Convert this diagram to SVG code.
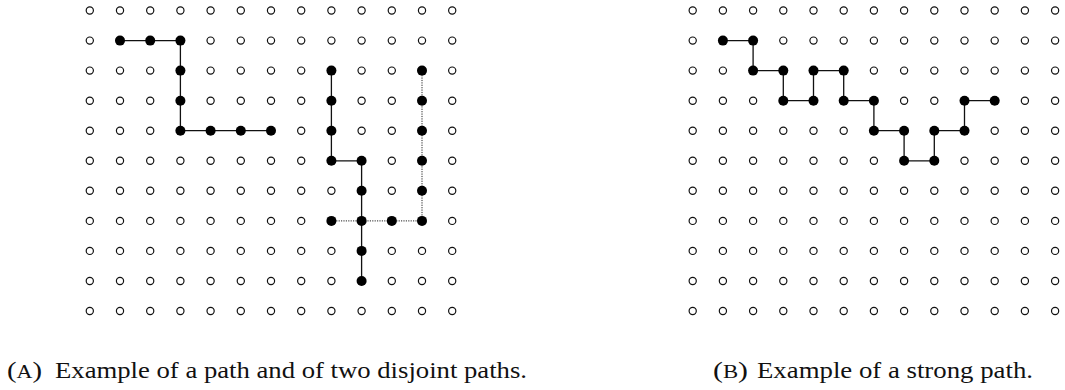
<svg xmlns="http://www.w3.org/2000/svg" xmlns:xlink="http://www.w3.org/1999/xlink" width="1065" height="390" viewBox="0 0 1065 390">
<style>
.edge{fill:none;stroke:#111;stroke-width:1.3}
.dot{fill:none;stroke:#222;stroke-width:1;stroke-dasharray:1.2 1.2}
.cap{font-family:"Liberation Serif","DejaVu Serif",serif;font-size:23.5px;fill:#111}
.sc{font-size:18px}
</style>
<defs>
<circle id="o" r="3.6" fill="#fff" stroke="#111" stroke-width="1.2"/>
<circle id="f" r="5" fill="#000"/>
</defs>
<rect width="1065" height="390" fill="#fff"/>
<g id="connectors">
<path class="edge" d="M120.0,40.6 H180.4 V130.7 H271.0"/>
<path class="edge" d="M331.4,70.6 V160.8 H361.6 V281.0"/>
<path class="dot" d="M331.4,220.9 H422.0 V70.6"/>
<path class="edge" d="M722.9,40.6 H753.1 V70.6 H783.3 V100.7 H813.5 V70.6 H843.7 V100.7 H873.9 V130.7 H904.1 V160.8 H934.3 V130.7 H964.5 V100.7 H994.7"/>
</g>
<g id="gridA">
<g id="A-r0" transform="translate(0 10.5)">
<use id="A0-0" href="#o" x="89.8"/><use id="A0-1" href="#o" x="120.0"/><use id="A0-2" href="#o" x="150.2"/><use id="A0-3" href="#o" x="180.4"/><use id="A0-4" href="#o" x="210.6"/><use id="A0-5" href="#o" x="240.8"/><use id="A0-6" href="#o" x="271.0"/><use id="A0-7" href="#o" x="301.2"/><use id="A0-8" href="#o" x="331.4"/><use id="A0-9" href="#o" x="361.6"/><use id="A0-10" href="#o" x="391.8"/><use id="A0-11" href="#o" x="422.0"/><use id="A0-12" href="#o" x="452.2"/>
</g>
<g id="A-r1" transform="translate(0 40.6)">
<use id="A1-0" href="#o" x="89.8"/><use id="A1-1" href="#f" x="120.0"/><use id="A1-2" href="#f" x="150.2"/><use id="A1-3" href="#f" x="180.4"/><use id="A1-4" href="#o" x="210.6"/><use id="A1-5" href="#o" x="240.8"/><use id="A1-6" href="#o" x="271.0"/><use id="A1-7" href="#o" x="301.2"/><use id="A1-8" href="#o" x="331.4"/><use id="A1-9" href="#o" x="361.6"/><use id="A1-10" href="#o" x="391.8"/><use id="A1-11" href="#o" x="422.0"/><use id="A1-12" href="#o" x="452.2"/>
</g>
<g id="A-r2" transform="translate(0 70.6)">
<use id="A2-0" href="#o" x="89.8"/><use id="A2-1" href="#o" x="120.0"/><use id="A2-2" href="#o" x="150.2"/><use id="A2-3" href="#f" x="180.4"/><use id="A2-4" href="#o" x="210.6"/><use id="A2-5" href="#o" x="240.8"/><use id="A2-6" href="#o" x="271.0"/><use id="A2-7" href="#o" x="301.2"/><use id="A2-8" href="#f" x="331.4"/><use id="A2-9" href="#o" x="361.6"/><use id="A2-10" href="#o" x="391.8"/><use id="A2-11" href="#f" x="422.0"/><use id="A2-12" href="#o" x="452.2"/>
</g>
<g id="A-r3" transform="translate(0 100.7)">
<use id="A3-0" href="#o" x="89.8"/><use id="A3-1" href="#o" x="120.0"/><use id="A3-2" href="#o" x="150.2"/><use id="A3-3" href="#f" x="180.4"/><use id="A3-4" href="#o" x="210.6"/><use id="A3-5" href="#o" x="240.8"/><use id="A3-6" href="#o" x="271.0"/><use id="A3-7" href="#o" x="301.2"/><use id="A3-8" href="#f" x="331.4"/><use id="A3-9" href="#o" x="361.6"/><use id="A3-10" href="#o" x="391.8"/><use id="A3-11" href="#f" x="422.0"/><use id="A3-12" href="#o" x="452.2"/>
</g>
<g id="A-r4" transform="translate(0 130.7)">
<use id="A4-0" href="#o" x="89.8"/><use id="A4-1" href="#o" x="120.0"/><use id="A4-2" href="#o" x="150.2"/><use id="A4-3" href="#f" x="180.4"/><use id="A4-4" href="#f" x="210.6"/><use id="A4-5" href="#f" x="240.8"/><use id="A4-6" href="#f" x="271.0"/><use id="A4-7" href="#o" x="301.2"/><use id="A4-8" href="#f" x="331.4"/><use id="A4-9" href="#o" x="361.6"/><use id="A4-10" href="#o" x="391.8"/><use id="A4-11" href="#f" x="422.0"/><use id="A4-12" href="#o" x="452.2"/>
</g>
<g id="A-r5" transform="translate(0 160.8)">
<use id="A5-0" href="#o" x="89.8"/><use id="A5-1" href="#o" x="120.0"/><use id="A5-2" href="#o" x="150.2"/><use id="A5-3" href="#o" x="180.4"/><use id="A5-4" href="#o" x="210.6"/><use id="A5-5" href="#o" x="240.8"/><use id="A5-6" href="#o" x="271.0"/><use id="A5-7" href="#o" x="301.2"/><use id="A5-8" href="#f" x="331.4"/><use id="A5-9" href="#f" x="361.6"/><use id="A5-10" href="#o" x="391.8"/><use id="A5-11" href="#f" x="422.0"/><use id="A5-12" href="#o" x="452.2"/>
</g>
<g id="A-r6" transform="translate(0 190.8)">
<use id="A6-0" href="#o" x="89.8"/><use id="A6-1" href="#o" x="120.0"/><use id="A6-2" href="#o" x="150.2"/><use id="A6-3" href="#o" x="180.4"/><use id="A6-4" href="#o" x="210.6"/><use id="A6-5" href="#o" x="240.8"/><use id="A6-6" href="#o" x="271.0"/><use id="A6-7" href="#o" x="301.2"/><use id="A6-8" href="#o" x="331.4"/><use id="A6-9" href="#f" x="361.6"/><use id="A6-10" href="#o" x="391.8"/><use id="A6-11" href="#f" x="422.0"/><use id="A6-12" href="#o" x="452.2"/>
</g>
<g id="A-r7" transform="translate(0 220.9)">
<use id="A7-0" href="#o" x="89.8"/><use id="A7-1" href="#o" x="120.0"/><use id="A7-2" href="#o" x="150.2"/><use id="A7-3" href="#o" x="180.4"/><use id="A7-4" href="#o" x="210.6"/><use id="A7-5" href="#o" x="240.8"/><use id="A7-6" href="#o" x="271.0"/><use id="A7-7" href="#o" x="301.2"/><use id="A7-8" href="#f" x="331.4"/><use id="A7-9" href="#f" x="361.6"/><use id="A7-10" href="#f" x="391.8"/><use id="A7-11" href="#f" x="422.0"/><use id="A7-12" href="#o" x="452.2"/>
</g>
<g id="A-r8" transform="translate(0 250.9)">
<use id="A8-0" href="#o" x="89.8"/><use id="A8-1" href="#o" x="120.0"/><use id="A8-2" href="#o" x="150.2"/><use id="A8-3" href="#o" x="180.4"/><use id="A8-4" href="#o" x="210.6"/><use id="A8-5" href="#o" x="240.8"/><use id="A8-6" href="#o" x="271.0"/><use id="A8-7" href="#o" x="301.2"/><use id="A8-8" href="#o" x="331.4"/><use id="A8-9" href="#f" x="361.6"/><use id="A8-10" href="#o" x="391.8"/><use id="A8-11" href="#o" x="422.0"/><use id="A8-12" href="#o" x="452.2"/>
</g>
<g id="A-r9" transform="translate(0 281.0)">
<use id="A9-0" href="#o" x="89.8"/><use id="A9-1" href="#o" x="120.0"/><use id="A9-2" href="#o" x="150.2"/><use id="A9-3" href="#o" x="180.4"/><use id="A9-4" href="#o" x="210.6"/><use id="A9-5" href="#o" x="240.8"/><use id="A9-6" href="#o" x="271.0"/><use id="A9-7" href="#o" x="301.2"/><use id="A9-8" href="#o" x="331.4"/><use id="A9-9" href="#f" x="361.6"/><use id="A9-10" href="#o" x="391.8"/><use id="A9-11" href="#o" x="422.0"/><use id="A9-12" href="#o" x="452.2"/>
</g>
<g id="A-r10" transform="translate(0 311.0)">
<use id="A10-0" href="#o" x="89.8"/><use id="A10-1" href="#o" x="120.0"/><use id="A10-2" href="#o" x="150.2"/><use id="A10-3" href="#o" x="180.4"/><use id="A10-4" href="#o" x="210.6"/><use id="A10-5" href="#o" x="240.8"/><use id="A10-6" href="#o" x="271.0"/><use id="A10-7" href="#o" x="301.2"/><use id="A10-8" href="#o" x="331.4"/><use id="A10-9" href="#o" x="361.6"/><use id="A10-10" href="#o" x="391.8"/><use id="A10-11" href="#o" x="422.0"/><use id="A10-12" href="#o" x="452.2"/>
</g>
</g>
<g id="gridB">
<g id="B-r0" transform="translate(0 10.5)">
<use id="B0-0" href="#o" x="692.7"/><use id="B0-1" href="#o" x="722.9"/><use id="B0-2" href="#o" x="753.1"/><use id="B0-3" href="#o" x="783.3"/><use id="B0-4" href="#o" x="813.5"/><use id="B0-5" href="#o" x="843.7"/><use id="B0-6" href="#o" x="873.9"/><use id="B0-7" href="#o" x="904.1"/><use id="B0-8" href="#o" x="934.3"/><use id="B0-9" href="#o" x="964.5"/><use id="B0-10" href="#o" x="994.7"/><use id="B0-11" href="#o" x="1024.9"/><use id="B0-12" href="#o" x="1055.1"/>
</g>
<g id="B-r1" transform="translate(0 40.6)">
<use id="B1-0" href="#o" x="692.7"/><use id="B1-1" href="#f" x="722.9"/><use id="B1-2" href="#f" x="753.1"/><use id="B1-3" href="#o" x="783.3"/><use id="B1-4" href="#o" x="813.5"/><use id="B1-5" href="#o" x="843.7"/><use id="B1-6" href="#o" x="873.9"/><use id="B1-7" href="#o" x="904.1"/><use id="B1-8" href="#o" x="934.3"/><use id="B1-9" href="#o" x="964.5"/><use id="B1-10" href="#o" x="994.7"/><use id="B1-11" href="#o" x="1024.9"/><use id="B1-12" href="#o" x="1055.1"/>
</g>
<g id="B-r2" transform="translate(0 70.6)">
<use id="B2-0" href="#o" x="692.7"/><use id="B2-1" href="#o" x="722.9"/><use id="B2-2" href="#f" x="753.1"/><use id="B2-3" href="#f" x="783.3"/><use id="B2-4" href="#f" x="813.5"/><use id="B2-5" href="#f" x="843.7"/><use id="B2-6" href="#o" x="873.9"/><use id="B2-7" href="#o" x="904.1"/><use id="B2-8" href="#o" x="934.3"/><use id="B2-9" href="#o" x="964.5"/><use id="B2-10" href="#o" x="994.7"/><use id="B2-11" href="#o" x="1024.9"/><use id="B2-12" href="#o" x="1055.1"/>
</g>
<g id="B-r3" transform="translate(0 100.7)">
<use id="B3-0" href="#o" x="692.7"/><use id="B3-1" href="#o" x="722.9"/><use id="B3-2" href="#o" x="753.1"/><use id="B3-3" href="#f" x="783.3"/><use id="B3-4" href="#f" x="813.5"/><use id="B3-5" href="#f" x="843.7"/><use id="B3-6" href="#f" x="873.9"/><use id="B3-7" href="#o" x="904.1"/><use id="B3-8" href="#o" x="934.3"/><use id="B3-9" href="#f" x="964.5"/><use id="B3-10" href="#f" x="994.7"/><use id="B3-11" href="#o" x="1024.9"/><use id="B3-12" href="#o" x="1055.1"/>
</g>
<g id="B-r4" transform="translate(0 130.7)">
<use id="B4-0" href="#o" x="692.7"/><use id="B4-1" href="#o" x="722.9"/><use id="B4-2" href="#o" x="753.1"/><use id="B4-3" href="#o" x="783.3"/><use id="B4-4" href="#o" x="813.5"/><use id="B4-5" href="#o" x="843.7"/><use id="B4-6" href="#f" x="873.9"/><use id="B4-7" href="#f" x="904.1"/><use id="B4-8" href="#f" x="934.3"/><use id="B4-9" href="#f" x="964.5"/><use id="B4-10" href="#o" x="994.7"/><use id="B4-11" href="#o" x="1024.9"/><use id="B4-12" href="#o" x="1055.1"/>
</g>
<g id="B-r5" transform="translate(0 160.8)">
<use id="B5-0" href="#o" x="692.7"/><use id="B5-1" href="#o" x="722.9"/><use id="B5-2" href="#o" x="753.1"/><use id="B5-3" href="#o" x="783.3"/><use id="B5-4" href="#o" x="813.5"/><use id="B5-5" href="#o" x="843.7"/><use id="B5-6" href="#o" x="873.9"/><use id="B5-7" href="#f" x="904.1"/><use id="B5-8" href="#f" x="934.3"/><use id="B5-9" href="#o" x="964.5"/><use id="B5-10" href="#o" x="994.7"/><use id="B5-11" href="#o" x="1024.9"/><use id="B5-12" href="#o" x="1055.1"/>
</g>
<g id="B-r6" transform="translate(0 190.8)">
<use id="B6-0" href="#o" x="692.7"/><use id="B6-1" href="#o" x="722.9"/><use id="B6-2" href="#o" x="753.1"/><use id="B6-3" href="#o" x="783.3"/><use id="B6-4" href="#o" x="813.5"/><use id="B6-5" href="#o" x="843.7"/><use id="B6-6" href="#o" x="873.9"/><use id="B6-7" href="#o" x="904.1"/><use id="B6-8" href="#o" x="934.3"/><use id="B6-9" href="#o" x="964.5"/><use id="B6-10" href="#o" x="994.7"/><use id="B6-11" href="#o" x="1024.9"/><use id="B6-12" href="#o" x="1055.1"/>
</g>
<g id="B-r7" transform="translate(0 220.9)">
<use id="B7-0" href="#o" x="692.7"/><use id="B7-1" href="#o" x="722.9"/><use id="B7-2" href="#o" x="753.1"/><use id="B7-3" href="#o" x="783.3"/><use id="B7-4" href="#o" x="813.5"/><use id="B7-5" href="#o" x="843.7"/><use id="B7-6" href="#o" x="873.9"/><use id="B7-7" href="#o" x="904.1"/><use id="B7-8" href="#o" x="934.3"/><use id="B7-9" href="#o" x="964.5"/><use id="B7-10" href="#o" x="994.7"/><use id="B7-11" href="#o" x="1024.9"/><use id="B7-12" href="#o" x="1055.1"/>
</g>
<g id="B-r8" transform="translate(0 250.9)">
<use id="B8-0" href="#o" x="692.7"/><use id="B8-1" href="#o" x="722.9"/><use id="B8-2" href="#o" x="753.1"/><use id="B8-3" href="#o" x="783.3"/><use id="B8-4" href="#o" x="813.5"/><use id="B8-5" href="#o" x="843.7"/><use id="B8-6" href="#o" x="873.9"/><use id="B8-7" href="#o" x="904.1"/><use id="B8-8" href="#o" x="934.3"/><use id="B8-9" href="#o" x="964.5"/><use id="B8-10" href="#o" x="994.7"/><use id="B8-11" href="#o" x="1024.9"/><use id="B8-12" href="#o" x="1055.1"/>
</g>
<g id="B-r9" transform="translate(0 281.0)">
<use id="B9-0" href="#o" x="692.7"/><use id="B9-1" href="#o" x="722.9"/><use id="B9-2" href="#o" x="753.1"/><use id="B9-3" href="#o" x="783.3"/><use id="B9-4" href="#o" x="813.5"/><use id="B9-5" href="#o" x="843.7"/><use id="B9-6" href="#o" x="873.9"/><use id="B9-7" href="#o" x="904.1"/><use id="B9-8" href="#o" x="934.3"/><use id="B9-9" href="#o" x="964.5"/><use id="B9-10" href="#o" x="994.7"/><use id="B9-11" href="#o" x="1024.9"/><use id="B9-12" href="#o" x="1055.1"/>
</g>
<g id="B-r10" transform="translate(0 311.0)">
<use id="B10-0" href="#o" x="692.7"/><use id="B10-1" href="#o" x="722.9"/><use id="B10-2" href="#o" x="753.1"/><use id="B10-3" href="#o" x="783.3"/><use id="B10-4" href="#o" x="813.5"/><use id="B10-5" href="#o" x="843.7"/><use id="B10-6" href="#o" x="873.9"/><use id="B10-7" href="#o" x="904.1"/><use id="B10-8" href="#o" x="934.3"/><use id="B10-9" href="#o" x="964.5"/><use id="B10-10" href="#o" x="994.7"/><use id="B10-11" href="#o" x="1024.9"/><use id="B10-12" href="#o" x="1055.1"/>
</g>
</g>
<g id="captions">
<text id="capA-label" class="cap" x="7" y="378" textLength="35" lengthAdjust="spacingAndGlyphs">(<tspan class="sc">A</tspan>)</text>
<text id="capA" class="cap" x="55" y="378" textLength="472" lengthAdjust="spacingAndGlyphs">Example of a path and of two disjoint paths.</text>
<text id="capB-label" class="cap" x="713" y="378" textLength="35" lengthAdjust="spacingAndGlyphs">(<tspan class="sc">B</tspan>)</text>
<text id="capB" class="cap" x="757" y="378" textLength="276" lengthAdjust="spacingAndGlyphs">Example of a strong path.</text>
</g>
</svg>
